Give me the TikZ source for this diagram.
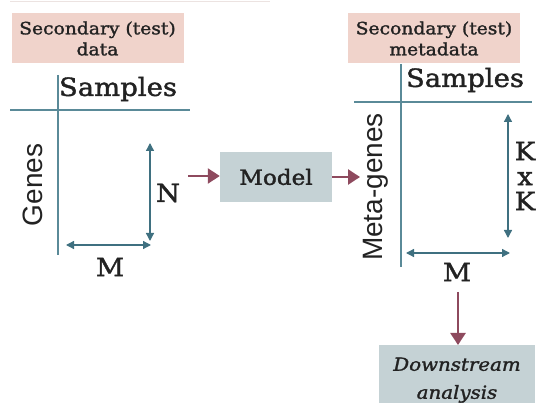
\documentclass[tikz,border=0pt]{standalone}
\usepackage{fontspec}
\setmainfont[FakeStretch=1.1,FakeBold=1.6]{DejaVu Serif}
\newfontfamily\sansf{Liberation Sans}
\usetikzlibrary{arrows.meta}
\definecolor{pinkbox}{HTML}{F0D3CB}
\definecolor{graybox}{HTML}{C5D2D5}
\definecolor{axis}{HTML}{5A8A98}
\definecolor{dim}{HTML}{3F7080}
\definecolor{flow}{HTML}{8E4A5E}
\definecolor{ink}{HTML}{222222}
\tikzset{
  labelbox/.style={fill=pinkbox, draw=none, minimum width=172pt, minimum height=50pt, inner sep=0pt, align=center, text=ink, font=\fontsize{17}{21}\selectfont},
  procbox/.style={fill=graybox, draw=none, inner sep=0pt, align=center, text=ink},
  axisline/.style={draw=axis, line width=1.2pt},
  dimarrow/.style={draw=dim, line width=1.3pt, {Triangle[length=8pt,width=8pt]}-{Triangle[length=8pt,width=8pt]}},
  flowarrow/.style={draw=flow, line width=2.4pt, -{Triangle[length=12pt,width=15pt]}},
  big/.style={text=ink, font=\fontsize{25}{27}\selectfont, inner sep=0pt},
  dimlabel/.style={text=ink, font=\fontsize{25}{26}\selectfont, inner sep=0pt},
  axlabel/.style={text=ink, font=\sansf\fontsize{28}{30}\selectfont, inner sep=0pt, rotate=90}
}
\begin{document}
\begin{tikzpicture}[x=1pt,y=-1pt]
\useasboundingbox (0,0) rectangle (544,403);
% faint top edge
\draw[draw=pinkbox!70!gray!40, line width=0.8pt] (10,1) -- (270,1);

% left panel
\node[labelbox] (ldata) at (97.5,38.5) {Secondary (test)\\data};
\coordinate (lvt) at (58,75);
\coordinate (lvb) at (58,255);
\coordinate (lhl) at (10,110);
\coordinate (lhr) at (190,110);
\draw[axisline] (lvt) -- (lvb);
\draw[axisline] (lhl) -- (lhr);
\node[big] (lsamp) at (118,89) {Samples};
\node[axlabel] (genes) at (33,185) {Genes};
\coordinate (nt) at (150,143);
\coordinate (nb) at (150,241);
\draw[dimarrow] (nt) -- (nb);
\node[dimlabel] (nlab) at (168,193) {N};
\coordinate (ml) at (66,245);
\coordinate (mr) at (151,245);
\draw[dimarrow] (ml) -- (mr);
\node[dimlabel] (mlab) at (110,267) {M};

% model
\node[procbox, minimum width=112pt, minimum height=50pt, font=\fontsize{21}{23}\selectfont] (model) at (276,177) {Model};
\coordinate (fin) at (188,176);
\draw[flowarrow] (fin) -- (model.west |- fin);
\coordinate (fout) at (360,177);
\draw[flowarrow] (model.east |- fout) -- (fout);

% right panel
\node[labelbox] (rdata) at (434,38.5) {Secondary (test)\\metadata};
\coordinate (rvt) at (401,64);
\coordinate (rvb) at (401,267);
\coordinate (rhl) at (354,102);
\coordinate (rhr) at (532,102);
\draw[axisline] (rvt) -- (rvb);
\draw[axisline] (rhl) -- (rhr);
\node[big] (rsamp) at (465,80) {Samples};
\node[axlabel] (mgenes) at (376,187) {Meta-genes};
\coordinate (kt) at (508,114);
\coordinate (kb) at (508,238);
\draw[dimarrow] (kt) -- (kb);
\node[dimlabel, align=center, font=\fontsize{25}{25}\selectfont] (klab) at (525,176) {K\\x\\K};
\coordinate (m2l) at (406,253);
\coordinate (m2r) at (510,253);
\draw[dimarrow] (m2l) -- (m2r);
\node[dimlabel] (m2lab) at (457,272) {M};

% downstream
\node[procbox, minimum width=156pt, minimum height=70pt, anchor=north, font=\itshape\fontsize{18}{28}\selectfont] (down) at (457,345) {Downstream\\analysis};
\coordinate (dstart) at (458,292);
\draw[flowarrow] (dstart) -- (down.north -| dstart);
\end{tikzpicture}
\end{document}
